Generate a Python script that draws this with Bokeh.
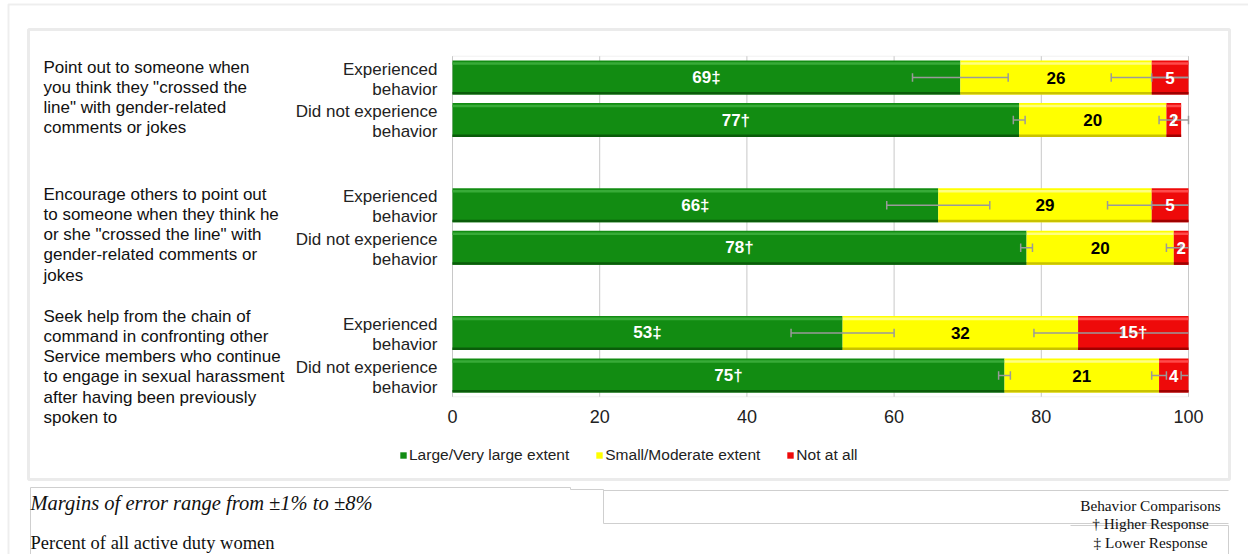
from bokeh.plotting import figure
from bokeh.models import (Range1d, Label, Legend, LegendItem, BoxAnnotation,
                          ColumnDataSource)
from bokeh.core.properties import value
from bokeh.embed import file_html
from bokeh.resources import INLINE

# ---------------- data ----------------
questions = [
    'Point out to someone when\nyou think they "crossed the\nline" with gender-related\ncomments or jokes',
    'Encourage others to point out\nto someone when they think he\nor she "crossed the line" with\ngender-related comments or\njokes',
    'Seek help from the chain of\ncommand in confronting other\nService members who continue\nto engage in sexual harassment\nafter having been previously\nspoken to',
]
groups = ["Experienced\nbehavior", "Did not experience\nbehavior"]
series = ["Large/Very large extent", "Small/Moderate extent", "Not at all"]

large = [69, 77, 66, 78, 53, 75]
small = [26, 20, 29, 20, 32, 21]
notatall = [5, 2, 5, 2, 15, 4]

large_lbl = ["69‡", "77†", "66‡", "78†", "53‡", "75†"]
small_lbl = ["26", "20", "29", "20", "32", "21"]
not_lbl = ["5", "2", "5", "2", "15†", "4"]

large_moe = [6.5, 0.8, 7, 0.8, 7, 0.8]
small_moe = [5.5, 1, 6, 1, 6, 1]
not_moe = [5, 1, 5, 1, 8, 1]

x_ticks = [0, 20, 40, 60, 80, 100]

note_moe = "Margins of error range from ±1% to ±8%"
note_pop = "Percent of all active duty women"
note_cmp = ["Behavior Comparisons", "† Higher Response", "‡ Lower Response"]

# ---------------- layout ----------------
W, H = 1248, 554
FONT = "Liberation Sans"
SERIF = "Liberation Serif"
GREEN, YELLOW, RED = "#128c12", "#ffff00", "#ee0a0a"

# pixel anchors of the plot area (layout only)
X0_PX, X100_PX = 452, 1188
Y1_PX, Y8_PX = 77, 375
SX = (X100_PX - X0_PX) / 100.0
SY = (Y8_PX - Y1_PX) / 7.0


def dx(px):
    return (px - X0_PX) / SX


def dy(py):
    return 1 + (py - Y1_PX) / SY


ypos = []
for qi in range(len(questions)):
    for gi in range(len(groups)):
        ypos.append(3 * qi + gi + 1)

n = len(large)
l0 = [0] * n
l1 = list(large)
s1 = [large[i] + small[i] for i in range(n)]
t1 = [large[i] + small[i] + notatall[i] for i in range(n)]

src = ColumnDataSource(dict(
    y=ypos, l0=l0, l1=l1, s1=s1, t1=t1,
    lmid=[(a + b) / 2 for a, b in zip(l0, l1)],
    smid=[(a + b) / 2 for a, b in zip(l1, s1)],
    nmid=[(a + b) / 2 for a, b in zip(s1, t1)],
    llbl=large_lbl, slbl=small_lbl, nlbl=not_lbl,
))

p = figure(width=W, height=H, output_backend="svg", toolbar_location=None,
           x_range=Range1d(dx(0), dx(W)), y_range=Range1d(dy(H), dy(0)),
           min_border=0, background_fill_color="white",
           border_fill_color="white", outline_line_color=None)
p.axis.visible = False
p.grid.visible = False

# outer decorative frames
p.add_layout(BoxAnnotation(left=8, right=1400, top=4, bottom=800, left_units="canvas",
                           right_units="canvas", top_units="canvas", bottom_units="canvas",
                           fill_alpha=0, line_color="#c6c6c6", line_width=2, level="underlay"))
p.add_layout(BoxAnnotation(left=28, right=1229, top=29, bottom=479, left_units="canvas",
                           right_units="canvas", top_units="canvas", bottom_units="canvas",
                           fill_alpha=0, line_color="#bcbcbc", line_width=3, level="underlay"))
p.multi_line(xs=[[dx(30), dx(30), dx(570), dx(570), dx(603)],
                 [dx(603), dx(603), dx(1228)],
                 [dx(603), dx(1228)],
                 [dx(1070), dx(1228), dx(1228)]],
             ys=[[dy(H), dy(487), dy(487), dy(489), dy(489)],
                 [dy(489), dy(523), dy(523)],
                 [dy(490), dy(490)],
                 [dy(525), dy(525), dy(H)]],
             line_color="#cfcfcf", line_width=1)

# plot area: gridlines + outline
p.segment(x0=x_ticks, x1=x_ticks, y0=[0.5] * len(x_ticks), y1=[8.5] * len(x_ticks),
          line_color="#c8c8c8", line_width=1)
p.add_layout(BoxAnnotation(left=0, right=100, top=0.5, bottom=8.5, fill_alpha=0,
                           line_color="#d2d2d2", line_width=1, level="underlay"))

# bars
rg = p.hbar(y="y", left="l0", right="l1", height=0.8, fill_color=GREEN,
            line_color=None, source=src)
ry = p.hbar(y="y", left="l1", right="s1", height=0.8, fill_color=YELLOW,
            line_color=None, source=src)
rr = p.hbar(y="y", left="s1", right="t1", height=0.8, fill_color=RED,
            line_color=None, source=src)
# bevel: light top strip, dark bottom strip
for left, right, top_c, bot_c in [("l0", "l1", "#38ab38", "#0a5c0a"),
                                  ("l1", "s1", "#ffff80", "#c9c200"),
                                  ("s1", "t1", "#ff4a4a", "#a00000")]:
    p.hbar(y=[v - 0.33 for v in ypos], left=src.data[left], right=src.data[right],
           height=0.06, fill_color=top_c, line_color=None)
    p.hbar(y=[v + 0.37 for v in ypos], left=src.data[left], right=src.data[right],
           height=0.06, fill_color=bot_c, line_color=None)

# error bars (clipped at 100 like the original)
ERR = "#9a9a9a"
for ends, moe in [(l1, large_moe), (s1, small_moe), (t1, not_moe)]:
    lo = [e - m for e, m in zip(ends, moe)]
    hi = [min(e + m, 100) for e, m in zip(ends, moe)]
    hi_cap = [e + m for e, m in zip(ends, moe)]
    p.segment(x0=lo, x1=hi, y0=ypos, y1=ypos, line_color=ERR, line_width=1.5)
    p.segment(x0=lo, x1=lo, y0=[v - 0.1 for v in ypos], y1=[v + 0.1 for v in ypos],
              line_color=ERR, line_width=1.5)
    capx = [c for c in hi_cap if c <= 100]
    capy = [v for c, v in zip(hi_cap, ypos) if c <= 100]
    p.segment(x0=capx, x1=capx, y0=[v - 0.1 for v in capy], y1=[v + 0.1 for v in capy],
              line_color=ERR, line_width=1.5)

# value labels
common = dict(text_font=value(FONT), text_font_size="17px", text_font_style="bold",
              text_align="center", text_baseline="middle", source=src)
p.text(x="lmid", y="y", text="llbl", text_color="white", **common)
p.text(x="smid", y="y", text="slbl", text_color="black", **common)
p.text(x="nmid", y="y", text="nlbl", text_color="white", **common)

# x tick labels
p.text(x=x_ticks, y=[dy(416)] * len(x_ticks), text=[str(t) for t in x_ticks],
       text_font=value(FONT), text_font_size="18px", text_color="#222222",
       text_align="center", text_baseline="middle")

# group labels (category axis)
p.text(x=[dx(437)] * len(ypos), y=[v + 0.04 for v in ypos],
       text=[groups[i % 2] for i in range(len(ypos))],
       text_font=value(FONT), text_font_size="17px", text_color="#222222",
       text_align="right", text_baseline="middle", text_line_height=1.06)

# question labels
p.text(x=[dx(43)] * 3, y=[dy(57), dy(184), dy(306)], text=questions,
       text_font=value(FONT), text_font_size="17px", text_color="#111111",
       text_align="left", text_baseline="top", text_line_height=1.07)

# legend
legend = Legend(items=[LegendItem(label=series[0], renderers=[rg]),
                       LegendItem(label=series[1], renderers=[ry]),
                       LegendItem(label=series[2], renderers=[rr])],
                orientation="horizontal", location=(399, 90),
                glyph_width=8, glyph_height=8, label_height=8, label_standoff=2,
                spacing=26, padding=0, margin=0, border_line_color=None,
                background_fill_alpha=0, label_text_font=FONT,
                label_text_font_size="15.5px", label_text_color="#222222",
                label_text_baseline="middle")
p.add_layout(legend, "center")

# footer texts
p.add_layout(Label(x=30, y=502, x_units="canvas", y_units="canvas", text=note_moe,
                   text_font=SERIF, text_font_style="italic", text_font_size="20.5px",
                   text_color="#111111", text_baseline="middle"))
p.add_layout(Label(x=30, y=542, x_units="canvas", y_units="canvas", text=note_pop,
                   text_font=SERIF, text_font_size="18.5px", text_color="#111111",
                   text_baseline="middle"))
for txt, yy in zip(note_cmp, [505, 523, 542]):
    p.add_layout(Label(x=1150, y=yy, x_units="canvas", y_units="canvas", text=txt,
                       text_font=SERIF, text_font_size="15.3px", text_color="#111111",
                       text_baseline="middle", text_align="center"))

open("out.html", "w").write(file_html(p, INLINE))
